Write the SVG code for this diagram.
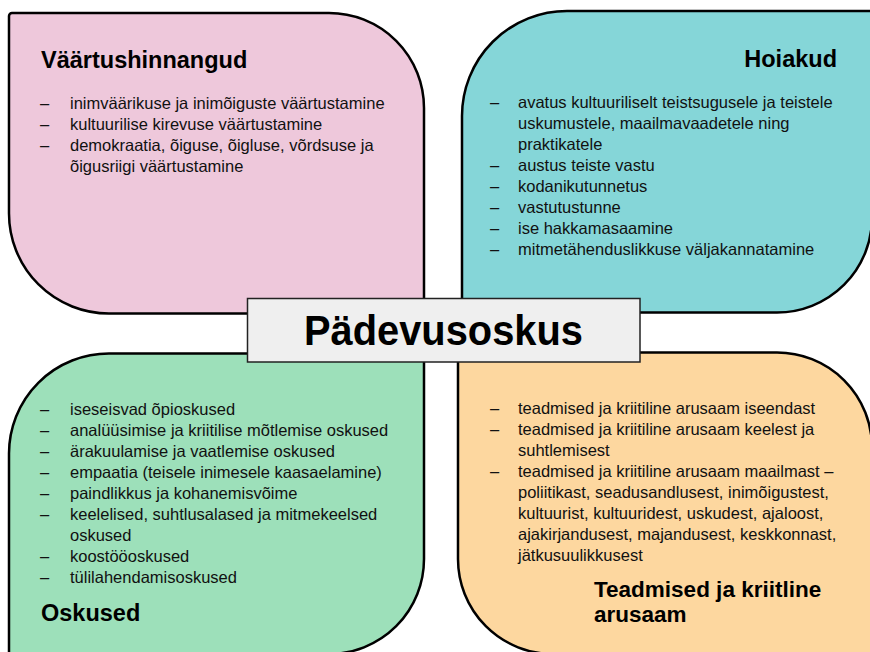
<svg xmlns="http://www.w3.org/2000/svg" width="870" height="652" viewBox="0 0 870 652">
<style>
.box{stroke:#000;stroke-width:2.5}
.t{font-family:"Liberation Sans",Arial,sans-serif;font-size:16.5px;fill:#111}
.h{font-family:"Liberation Sans",Arial,sans-serif;font-size:23.5px;font-weight:bold;fill:#000}
.c{font-family:"Liberation Sans",Arial,sans-serif;font-size:42px;font-weight:bold;fill:#000}
</style>
<rect width="870" height="652" fill="#fff"/>
<g id="connectors"/>
<g id="vaartushinnangud">
<path class="box" fill="#EEC8DB" d="M12,13 H329 A95,95 0 0 1 424,108 V313.5 H109 A100,100 0 0 1 9,213.5 V16 A3,3 0 0 1 12,13 Z"/>
<text class="h" x="41" y="68">Väärtushinnangud</text>
<text class="t"><tspan x="40" y="109">–</tspan><tspan x="70" y="109">inimväärikuse ja inimõiguste väärtustamine</tspan></text>
<text class="t"><tspan x="40" y="130">–</tspan><tspan x="70" y="130">kultuurilise kirevuse väärtustamine</tspan></text>
<text class="t"><tspan x="40" y="151">–</tspan><tspan x="70" y="151">demokraatia, õiguse, õigluse, võrdsuse ja</tspan></text>
<text class="t" x="70" y="172">õigusriigi väärtustamine</text>
</g>
<g id="hoiakud">
<path class="box" fill="#85D6D8" d="M567,11 H872 V217.5 A95,95 0 0 1 777,312.5 H462 V116 A105,105 0 0 1 567,11 Z"/>
<text class="h" x="837" y="67" text-anchor="end">Hoiakud</text>
<text class="t"><tspan x="490" y="108">–</tspan><tspan x="518" y="108">avatus kultuuriliselt teistsugusele ja teistele</tspan></text>
<text class="t" x="518" y="129">uskumustele, maailmavaadetele ning</text>
<text class="t" x="518" y="150">praktikatele</text>
<text class="t"><tspan x="490" y="171">–</tspan><tspan x="518" y="171">austus teiste vastu</tspan></text>
<text class="t"><tspan x="490" y="192">–</tspan><tspan x="518" y="192">kodanikutunnetus</tspan></text>
<text class="t"><tspan x="490" y="213">–</tspan><tspan x="518" y="213">vastutustunne</tspan></text>
<text class="t"><tspan x="490" y="234">–</tspan><tspan x="518" y="234">ise hakkamasaamine</tspan></text>
<text class="t"><tspan x="490" y="255">–</tspan><tspan x="518" y="255">mitmetähenduslikkuse väljakannatamine</tspan></text>
</g>
<g id="oskused">
<path class="box" fill="#9DE0BA" d="M109,353.5 H424 V559 A95,95 0 0 1 329,654 H9 V453.5 A100,100 0 0 1 109,353.5 Z"/>
<text class="t"><tspan x="40" y="415">–</tspan><tspan x="70" y="415">iseseisvad õpioskused</tspan></text>
<text class="t"><tspan x="40" y="436">–</tspan><tspan x="70" y="436">analüüsimise ja kriitilise mõtlemise oskused</tspan></text>
<text class="t"><tspan x="40" y="457">–</tspan><tspan x="70" y="457">ärakuulamise ja vaatlemise oskused</tspan></text>
<text class="t"><tspan x="40" y="478">–</tspan><tspan x="70" y="478">empaatia (teisele inimesele kaasaelamine)</tspan></text>
<text class="t"><tspan x="40" y="499">–</tspan><tspan x="70" y="499">paindlikkus ja kohanemisvõime</tspan></text>
<text class="t"><tspan x="40" y="520">–</tspan><tspan x="70" y="520">keelelised, suhtlusalased ja mitmekeelsed</tspan></text>
<text class="t" x="70" y="541">oskused</text>
<text class="t"><tspan x="40" y="562">–</tspan><tspan x="70" y="562">koostööoskused</tspan></text>
<text class="t"><tspan x="40" y="583">–</tspan><tspan x="70" y="583">tülilahendamisoskused</tspan></text>
<text class="h" x="41" y="621">Oskused</text>
</g>
<g id="teadmised">
<path class="box" fill="#FDD79F" d="M458,352.5 H777 A95,95 0 0 1 872,447.5 V654 H553 A95,95 0 0 1 458,559 Z"/>
<text class="t"><tspan x="490" y="414">–</tspan><tspan x="518" y="414">teadmised ja kriitiline arusaam iseendast</tspan></text>
<text class="t"><tspan x="490" y="435">–</tspan><tspan x="518" y="435">teadmised ja kriitiline arusaam keelest ja</tspan></text>
<text class="t" x="518" y="456">suhtlemisest</text>
<text class="t"><tspan x="490" y="477">–</tspan><tspan x="518" y="477">teadmised ja kriitiline arusaam maailmast –</tspan></text>
<text class="t" x="518" y="498">poliitikast, seadusandlusest, inimõigustest,</text>
<text class="t" x="518" y="519">kultuurist, kultuuridest, uskudest, ajaloost,</text>
<text class="t" x="518" y="540">ajakirjandusest, majandusest, keskkonnast,</text>
<text class="t" x="518" y="561">jätkusuulikkusest</text>
<text class="h" style="font-size:22.5px"><tspan x="594" y="597">Teadmised ja kriitline</tspan><tspan x="594" y="622">arusaam</tspan></text>
</g>
<g id="padevusoskus">
<rect x="247.5" y="298.5" width="392.5" height="63.5" fill="#EFEFEF" stroke="#222" stroke-width="1.5"/>
<text class="c" x="443.5" y="345" text-anchor="middle" textLength="279" lengthAdjust="spacingAndGlyphs">Pädevusoskus</text>
</g>
</svg>
